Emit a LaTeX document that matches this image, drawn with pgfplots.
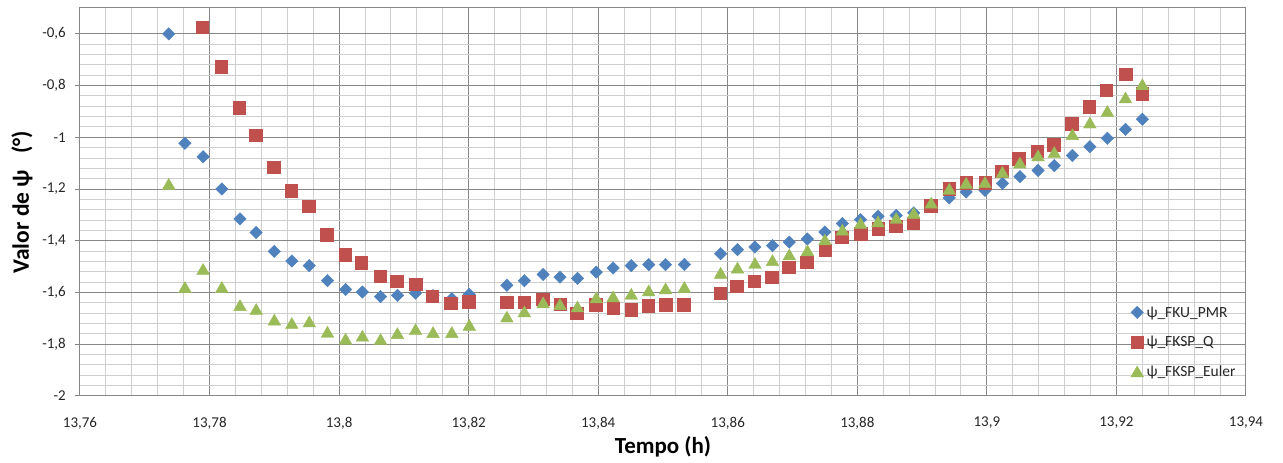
\documentclass[border=0pt]{standalone}
\usepackage{fontspec}
\setmainfont{Carlito}
\usepackage{pgfplots}
\pgfplotsset{compat=1.18}

\definecolor{serblue}{HTML}{4F81BD}
\definecolor{serred}{HTML}{C0504D}
\definecolor{sergreen}{HTML}{9BBB59}
\definecolor{gridmaj}{HTML}{878787}
\definecolor{gridmin}{HTML}{CFCFCF}

\begin{document}
\begin{tikzpicture}
\path[use as bounding box] (-80pt,-67pt) rectangle (1203pt,396pt);
\begin{axis}[
  at={(0pt,0pt)}, anchor=south west,
  scale only axis, width=1166pt, height=388pt,
  xmin=13.76, xmax=13.94, ymin=-2, ymax=-0.5,
  xtick={13.76,13.78,13.80,13.82,13.84,13.86,13.88,13.90,13.92,13.94},
  ytick={-2,-1.8,-1.6,-1.4,-1.2,-1,-0.8,-0.6},
  minor x tick num=4, minor y tick num=4,
  grid=both,
  major grid style={color=gridmaj, line width=1pt},
  minor grid style={color=gridmin, line width=1pt},
  axis line style={color=gridmaj, line width=1pt},
  tick align=outside, major tick length=5pt, minor tick length=0pt,
  ytick pos=left, xtick pos=bottom,
  x tick style={draw=none},
  y tick style={color=gridmaj, line width=1pt},
  /pgf/number format/.cd, use comma, fixed, precision=2, assume math mode=true,
  /pgfplots/.cd,
  ticklabel style={font=\fontsize{15}{18}\selectfont, text=black!85},
  xticklabel style={anchor=center, yshift=-22pt},
  yticklabel style={anchor=east, inner sep=0pt, xshift=-9pt},
  xlabel={Tempo (h)},
  ylabel={Valor de ψ\hspace{0.7em}(°)},
  every axis x label/.style={at={(axis description cs:0.5,-0.1314)}, anchor=center,
    font=\fontsize{23}{26}\selectfont\bfseries},
  every axis y label/.style={at={(axis description cs:-0.0497,0.5)}, anchor=center, rotate=90,
    font=\fontsize{23.5}{26}\selectfont\bfseries},
  legend image code/.code={\draw[#1] plot coordinates {(0pt,0pt)};},
  legend cell align=left,
  legend style={at={(axis cs:13.9222,-1.791)}, anchor=west, draw=none, fill=none,
    inner sep=0pt, row sep=17pt, column sep=3pt,
    nodes={inner sep=0pt, text height=11pt, text depth=1.5pt},
    font=\fontsize{15.5}{18}\selectfont, text=black!85},
]

% psi estimated by the FKU_PMR filter
\addplot[only marks, mark=square*, mark size=4.4pt,
  mark options={rotate=45, fill=serblue, draw=serblue}] coordinates {
(13.7737,-0.600) (13.7762,-1.023) (13.7790,-1.075) (13.7819,-1.200)
(13.7847,-1.315) (13.7872,-1.368) (13.7900,-1.441) (13.7927,-1.478)
(13.7954,-1.496) (13.7982,-1.554) (13.8010,-1.588) (13.8036,-1.598)
(13.8064,-1.616) (13.8090,-1.611) (13.8118,-1.602) (13.8145,-1.612)
(13.8174,-1.624) (13.8201,-1.607) (13.8259,-1.572) (13.8286,-1.554)
(13.8315,-1.530) (13.8341,-1.540) (13.8368,-1.545) (13.8397,-1.521)
(13.8423,-1.505) (13.8451,-1.496) (13.8478,-1.492) (13.8504,-1.492)
(13.8533,-1.492) (13.8589,-1.450) (13.8615,-1.434) (13.8642,-1.424)
(13.8669,-1.419) (13.8695,-1.405) (13.8723,-1.393) (13.8750,-1.366)
(13.8777,-1.333) (13.8805,-1.318) (13.8832,-1.305) (13.8860,-1.302)
(13.8887,-1.292) (13.8914,-1.260) (13.8942,-1.234) (13.8968,-1.211)
(13.8997,-1.205) (13.9024,-1.178) (13.9051,-1.152) (13.9079,-1.128)
(13.9104,-1.109) (13.9132,-1.070) (13.9159,-1.036) (13.9186,-1.004)
(13.9214,-0.969) (13.9240,-0.930)
};
\addlegendentry{ψ\_FKU\_PMR}

% psi estimated by FKSP with quaternions
\addplot[only marks, mark=square*, mark size=6.2pt,
  mark options={fill=serred, draw=serred}] coordinates {
(13.7789,-0.575) (13.7818,-0.727) (13.7846,-0.885) (13.7871,-0.991)
(13.7899,-1.115) (13.7926,-1.207) (13.7953,-1.266) (13.7981,-1.376)
(13.8009,-1.453) (13.8034,-1.484) (13.8063,-1.538) (13.8089,-1.557)
(13.8118,-1.567) (13.8144,-1.614) (13.8172,-1.642) (13.8200,-1.635)
(13.8259,-1.638) (13.8286,-1.637) (13.8314,-1.625) (13.8341,-1.645)
(13.8367,-1.680) (13.8396,-1.647) (13.8423,-1.660) (13.8451,-1.667)
(13.8477,-1.651) (13.8504,-1.647) (13.8532,-1.647) (13.8588,-1.602)
(13.8614,-1.576) (13.8641,-1.557) (13.8668,-1.541) (13.8694,-1.503)
(13.8722,-1.482) (13.8750,-1.436) (13.8776,-1.385) (13.8805,-1.372)
(13.8832,-1.353) (13.8859,-1.344) (13.8886,-1.333) (13.8913,-1.264)
(13.8942,-1.199) (13.8968,-1.176) (13.8997,-1.176) (13.9023,-1.131)
(13.9049,-1.083) (13.9078,-1.054) (13.9103,-1.029) (13.9131,-0.948)
(13.9158,-0.882) (13.9184,-0.817) (13.9214,-0.756) (13.9240,-0.831)
};
\addlegendentry{ψ\_FKSP\_Q}

% psi estimated by FKSP with Euler angles
\addplot[only marks, mark=triangle*, mark size=7.3pt,
  mark options={fill=sergreen, draw=sergreen, yshift=-1.8pt}] coordinates {
(13.7737,-1.180) (13.7762,-1.579) (13.7790,-1.509) (13.7819,-1.579)
(13.7847,-1.649) (13.7872,-1.664) (13.7900,-1.705) (13.7927,-1.718)
(13.7954,-1.712) (13.7982,-1.752) (13.8010,-1.779) (13.8036,-1.767)
(13.8064,-1.780) (13.8090,-1.757) (13.8118,-1.742) (13.8145,-1.753)
(13.8174,-1.753) (13.8201,-1.725) (13.8259,-1.693) (13.8286,-1.673)
(13.8315,-1.638) (13.8341,-1.645) (13.8368,-1.654) (13.8397,-1.619)
(13.8423,-1.615) (13.8451,-1.605) (13.8478,-1.592) (13.8504,-1.584)
(13.8533,-1.579) (13.8589,-1.524) (13.8615,-1.504) (13.8642,-1.486)
(13.8669,-1.475) (13.8695,-1.453) (13.8723,-1.437) (13.8750,-1.395)
(13.8777,-1.357) (13.8805,-1.331) (13.8832,-1.325) (13.8860,-1.312)
(13.8887,-1.292) (13.8914,-1.253) (13.8942,-1.199) (13.8968,-1.176)
(13.8997,-1.173) (13.9024,-1.134) (13.9051,-1.098) (13.9079,-1.070)
(13.9104,-1.057) (13.9132,-0.988) (13.9159,-0.943) (13.9186,-0.898)
(13.9214,-0.846) (13.9240,-0.795)
};
\addlegendentry{ψ\_FKSP\_Euler}

\end{axis}
\end{tikzpicture}
\end{document}
